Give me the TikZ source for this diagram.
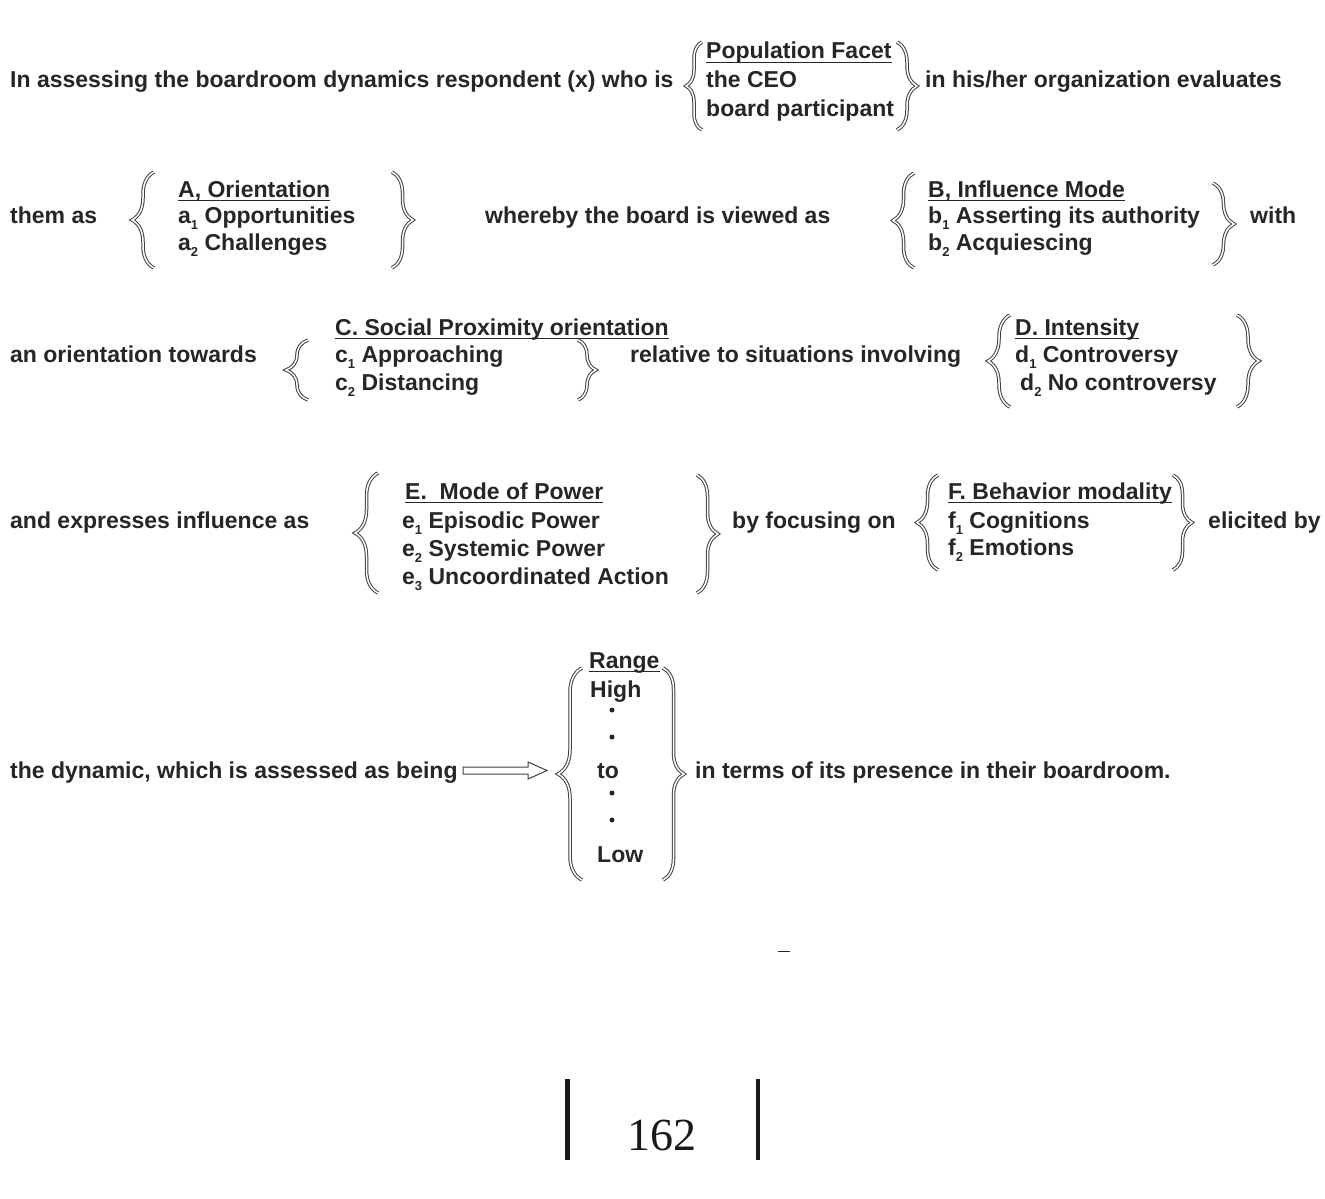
\documentclass[tikz,border=0pt]{standalone}
\usepackage{fontspec}
\setmainfont{Liberation Sans}
\newfontfamily\numfont{Liberation Serif}
\usetikzlibrary{decorations.pathreplacing}
\definecolor{tc}{HTML}{262626}
\definecolor{bc}{HTML}{404040}
\newcommand{\sbx}[1]{\raisebox{-0.28em}{\fontsize{13}{13}\selectfont #1}}
\begin{document}
\begin{tikzpicture}[x=1pt,y=-1pt,
  txt/.style={anchor=base west, inner sep=0pt, font=\fontsize{23}{27}\selectfont\bfseries, text=tc},
  ul/.style={line width=1.8pt, draw=tc},
  bracestyle/.style={decorate, decoration={brace, amplitude=#1}, draw=bc, line width=1pt, double=white, double distance=1.5pt},
  dotmark/.style={fill=tc}
]
\useasboundingbox (0,0) rectangle (1325,1199);
\fill[white] (0,0) rectangle (1325,1199);

% Row 1
\node[txt] (t1) at (10,87) {In assessing the boardroom dynamics respondent (x) who is};
\node[txt] (p0) at (706,59) {Population Facet};
\node[txt] (p1) at (706,88) {the CEO};
\node[txt] (p2) at (706,116) {board participant};
\node[txt] (t2) at (925,87) {in his/her organization evaluates};
\draw[ul] ([yshift=-3.5pt]p0.base west) -- ([yshift=-3.5pt]p0.base east);
\draw[bracestyle=16] (702,130) -- (702,42);
\draw[bracestyle=20] (897,42) -- (897,130);

% Row 2
\node[txt] (t3) at (10,223) {them as};
\node[txt] (a0) at (178,197) {A, Orientation};
\node[txt] (a1) at (178,223) {a\sbx{1} Opportunities};
\node[txt] (a2) at (178,250) {a\sbx{2} Challenges};
\node[txt] (t4) at (485,223) {whereby the board is viewed as};
\node[txt] (b0) at (928,197) {B, Influence Mode};
\node[txt] (b1) at (928,223) {b\sbx{1} Asserting its authority};
\node[txt] (b2) at (928,250) {b\sbx{2} Acquiescing};
\node[txt] (t5) at (1250,223) {with};
\draw[ul] ([yshift=-3.5pt]a0.base west) -- ([yshift=-3.5pt]a0.base east);
\draw[ul] ([yshift=-3.5pt]b0.base west) -- ([yshift=-3.5pt]b0.base east);
\draw[bracestyle=22] (154,268) -- (154,172);
\draw[bracestyle=21] (392,172) -- (392,268);
\draw[bracestyle=21] (914,268) -- (914,173);
\draw[bracestyle=21] (1213,183) -- (1213,265);

% Row 3
\node[txt] (t6) at (10,362) {an orientation towards};
\node[txt] (c0) at (335,335) {C. Social Proximity orientation};
\node[txt] (c1) at (335,362) {c\sbx{1} Approaching};
\node[txt] (c2) at (335,390) {c\sbx{2} Distancing};
\node[txt] (t7) at (630,362) {relative to situations involving};
\node[txt] (d0) at (1015,335) {D. Intensity};
\node[txt] (d1) at (1015,362) {d\sbx{1} Controversy};
\node[txt] (d2) at (1020,390) {d\sbx{2} No controversy};
\draw[ul] ([yshift=-3.5pt]c0.base west) -- ([yshift=-3.5pt]c0.base east);
\draw[ul] ([yshift=-3.5pt]d0.base west) -- ([yshift=-3.5pt]d0.base east);
\draw[bracestyle=22] (308,400) -- (308,340);
\draw[bracestyle=18] (578,340) -- (578,400);
\draw[bracestyle=22] (1010,407) -- (1010,315);
\draw[bracestyle=22] (1237,315) -- (1237,407);

% Row 4
\node[txt] (t8) at (10,528) {and expresses influence as};
\node[txt] (e0) at (405,499) {E.\ \ Mode of Power};
\node[txt] (e1) at (402,528) {e\sbx{1} Episodic Power};
\node[txt] (e2) at (402,556) {e\sbx{2} Systemic Power};
\node[txt] (e3) at (402,584) {e\sbx{3} Uncoordinated Action};
\node[txt] (t9) at (732,528) {by focusing on};
\node[txt] (f0) at (948,499) {F. Behavior modality};
\node[txt] (f1) at (948,528) {f\sbx{1} Cognitions};
\node[txt] (f2) at (948,555) {f\sbx{2} Emotions};
\node[txt] (t10) at (1208,528) {elicited by};
\draw[ul] ([yshift=-3.5pt]e0.base west) -- ([yshift=-3.5pt]e0.base east);
\draw[ul] ([yshift=-3.5pt]f0.base west) -- ([yshift=-3.5pt]f0.base east);
\draw[bracestyle=23] (378,593) -- (378,473);
\draw[bracestyle=21] (697,475) -- (697,593);
\draw[bracestyle=21] (938,570) -- (938,475);
\draw[bracestyle=19] (1173,475) -- (1173,570);

% Row 5
\node[txt] (t11) at (10,778) {the dynamic, which is assessed as being};
\node[txt] (r0) at (589,668) {Range};
\node[txt] (r1) at (590,697) {High};
\node[txt] (r2) at (597,778) {to};
\node[txt] (r3) at (597,862) {Low};
\node[txt] (t12) at (695,778) {in terms of its presence in their boardroom.};
\draw[ul] ([yshift=-3.5pt]r0.base west) -- ([yshift=-3.5pt]r0.base east);
\fill[dotmark] (612,710) circle (2.5);
\fill[dotmark] (612,737) circle (2.5);
\fill[dotmark] (612,793) circle (2.5);
\fill[dotmark] (612,820) circle (2.5);
\draw[bracestyle=24] (582,880) -- (582,668);
\draw[bracestyle=21] (663,668) -- (663,880);
\coordinate (arrS) at (463,770.5);
\coordinate (arrE) at (547,770.5);
\draw[bc, line width=1pt, fill=white] (arrS) ++(0,-3.5) -- ++(65,0) -- ++(0,-5) -- (arrE) -- ++(-19,8.5) -- ++(0,-5) -- ++(-65,0) -- cycle;

% page footer
\draw[tc, line width=1pt] (778,951) -- (790,951);
\fill[black!90] (565,1079) rectangle (569.5,1160);
\fill[black!90] (755.5,1079) rectangle (760,1160);
\node[anchor=base, inner sep=0pt, font=\numfont\fontsize{46}{50}\selectfont, text=black!90] (pg) at (662,1150) {162};
\end{tikzpicture}
\end{document}
